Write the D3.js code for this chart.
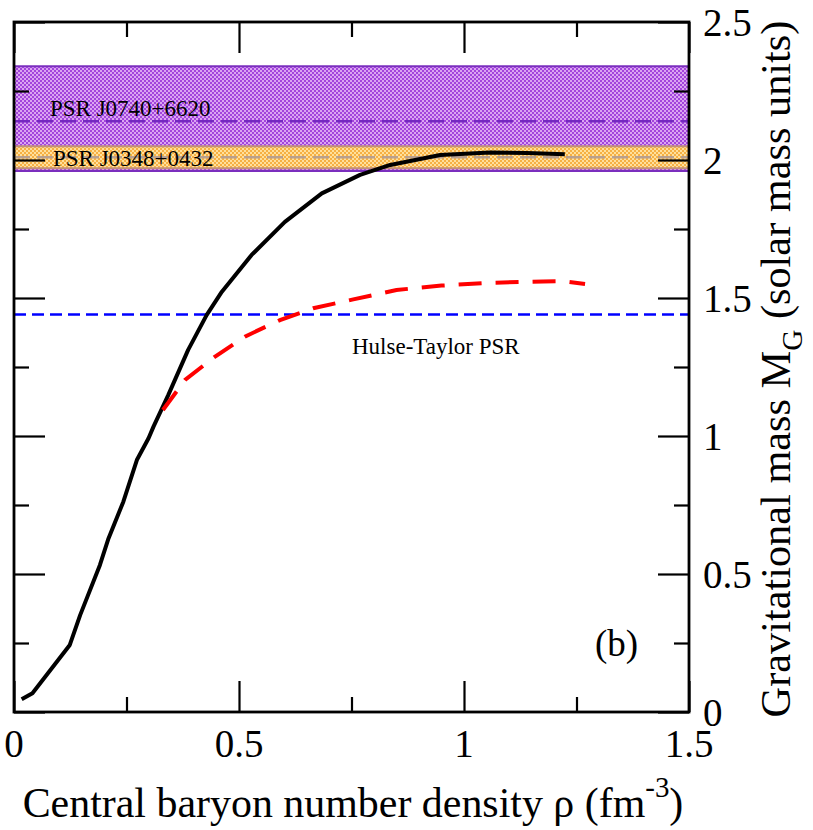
<!DOCTYPE html>
<html lang="en">
<head>
<meta charset="UTF-8">
<title>Gravitational mass vs central baryon density</title>
<script src="https://cdn.jsdelivr.net/npm/d3@7/dist/d3.min.js"></script>
<style>
  html, body { margin: 0; padding: 0; background: #fff; }
  svg text { font-family: "Liberation Serif", "Times New Roman", serif; fill: #000; }
</style>
</head>
<body>
<div id="chart"></div>
<script type="text/javascript">

// central baryon number density (fm^-3) and gravitational mass (M_sun)
const blackDensity = [0.017, 0.041, 0.124, 0.147, 0.191, 0.210, 0.243, 0.273, 0.299, 0.310,
                      0.343, 0.387, 0.428, 0.462, 0.528, 0.602, 0.684, 0.769, 0.836, 0.947,
                      1.058, 1.140, 1.224];
const blackMass    = [0.046, 0.068, 0.243, 0.351, 0.533, 0.629, 0.762, 0.913, 0.992, 1.034,
                      1.149, 1.312, 1.438, 1.523, 1.656, 1.776, 1.879, 1.946, 1.982, 2.018,
                      2.027, 2.025, 2.021];

const redDensity = [0.331, 0.380, 0.447, 0.513, 0.591, 0.665, 0.754, 0.850, 0.950, 1.058,
                    1.176, 1.220, 1.269];
const redMass    = [1.094, 1.203, 1.288, 1.360, 1.420, 1.463, 1.495, 1.529, 1.545, 1.555,
                    1.560, 1.561, 1.551];

// observational constraints
const hulseTaylorMass = 1.44;
const j0740 = {label: "PSR J0740+6620", mass: 2.14, lo: 1.96, hi: 2.34};
const j0348 = {label: "PSR J0348+0432", mass: 2.01, lo: 1.97, hi: 2.05};

const xTicks = [0, 0.5, 1, 1.5];
const xTickLabels = ["0", "0.5", "1", "1.5"];
const xMinor = [0.25, 0.75, 1.25];
const yTicks = [0, 0.5, 1, 1.5, 2, 2.5];
const yTickLabels = ["0", "0.5", "1", "1.5", "2", "2.5"];
const yMinor = [0.25, 0.75, 1.25, 1.75, 2.25];

const W = 813, H = 830;
const mLeft = 14, mRight = 689, mTop = 22, mBottom = 712;

const x = d3.scaleLinear().domain([0, 1.5]).range([mLeft, mRight]);
const y = d3.scaleLinear().domain([0, 2.5]).range([mBottom, mTop]);

const svg = d3.select("#chart").append("svg")
    .attr("width", W).attr("height", H);

// checker patterns for the bands
const defs = svg.append("defs");
function checker(id, light, dark) {
    const p = defs.append("pattern").attr("id", id)
        .attr("patternUnits", "userSpaceOnUse")
        .attr("width", 4).attr("height", 4);
    p.append("rect").attr("width", 4).attr("height", 4).attr("fill", light);
    p.append("rect").attr("width", 2).attr("height", 2).attr("fill", dark);
    p.append("rect").attr("x", 2).attr("y", 2).attr("width", 2).attr("height", 2).attr("fill", dark);
}
checker("purpleChk", "#dba4f2", "#a244dc");
checker("orangeChk", "#ffe09c", "#f6b043");

const plot = svg.append("g");

function band(b, fill, edge) {
    plot.append("rect")
        .attr("x", x(0)).attr("width", x(1.5) - x(0))
        .attr("y", y(b.hi)).attr("height", y(b.lo) - y(b.hi))
        .attr("fill", fill);
    [b.lo, b.hi].forEach(v => {
        plot.append("line")
            .attr("x1", x(0)).attr("x2", x(1.5))
            .attr("y1", y(v)).attr("y2", y(v))
            .attr("stroke", edge).attr("stroke-width", 2);
    });
}
band(j0740, "url(#purpleChk)", "#7b2fbe");
band(j0348, "url(#orangeChk)", "#c0907a");

plot.append("line")
    .attr("x1", x(0)).attr("x2", x(1.5))
    .attr("y1", y(j0740.mass)).attr("y2", y(j0740.mass))
    .attr("stroke", "#7428c0").attr("stroke-width", 2.5)
    .attr("stroke-dasharray", "16,7");
plot.append("line")
    .attr("x1", x(0)).attr("x2", x(1.5))
    .attr("y1", y(j0348.mass)).attr("y2", y(j0348.mass))
    .attr("stroke", "#b9a08e").attr("stroke-width", 2.5)
    .attr("stroke-dasharray", "16,7");

plot.append("text").attr("x", 50).attr("y", 116)
    .attr("font-size", 23).text(j0740.label);
plot.append("text").attr("x", 53).attr("y", 166)
    .attr("font-size", 23).text(j0348.label);

// Hulse-Taylor line
plot.append("line")
    .attr("x1", x(0)).attr("x2", x(1.5))
    .attr("y1", y(hulseTaylorMass)).attr("y2", y(hulseTaylorMass))
    .attr("stroke", "#0000ff").attr("stroke-width", 2.5)
    .attr("stroke-dasharray", "12,6");
plot.append("text").attr("x", 352).attr("y", 354)
    .attr("font-size", 23).text("Hulse-Taylor PSR");

const line = d3.line().x(d => x(d[0])).y(d => y(d[1]));

plot.append("path")
    .datum(blackDensity.map((d, i) => [d, blackMass[i]]))
    .attr("d", line)
    .attr("fill", "none").attr("stroke", "#000").attr("stroke-width", 4)
    .attr("stroke-linejoin", "round");

plot.append("path")
    .datum(redDensity.map((d, i) => [d, redMass[i]]))
    .attr("d", line)
    .attr("fill", "none").attr("stroke", "#ff0000").attr("stroke-width", 4)
    .attr("stroke-dasharray", "23,14");

plot.append("text").attr("x", 595).attr("y", 656)
    .attr("font-size", 37).text("(b)");

// inward ticks on all four sides
function ticks(axis, vals, len) {
    return axis.tickValues(vals).tickSizeInner(-len).tickSizeOuter(0).tickFormat("");
}
const axes = svg.append("g").attr("class", "axes");
axes.append("g").attr("transform", `translate(0,${mBottom})`).call(ticks(d3.axisBottom(x), xTicks, 31));
axes.append("g").attr("transform", `translate(0,${mBottom})`).call(ticks(d3.axisBottom(x), xMinor, 15));
axes.append("g").attr("transform", `translate(0,${mTop})`).call(ticks(d3.axisTop(x), xTicks, 31));
axes.append("g").attr("transform", `translate(0,${mTop})`).call(ticks(d3.axisTop(x), xMinor, 15));
axes.append("g").attr("transform", `translate(${mLeft},0)`).call(ticks(d3.axisLeft(y), yTicks, 31));
axes.append("g").attr("transform", `translate(${mLeft},0)`).call(ticks(d3.axisLeft(y), yMinor, 15));
axes.append("g").attr("transform", `translate(${mRight},0)`).call(ticks(d3.axisRight(y), yTicks, 31));
axes.append("g").attr("transform", `translate(${mRight},0)`).call(ticks(d3.axisRight(y), yMinor, 15));
axes.selectAll(".domain").remove();
axes.selectAll(".tick line").attr("stroke", "#000").attr("stroke-width", 2.2);

svg.append("rect")
    .attr("x", mLeft).attr("y", mTop)
    .attr("width", mRight - mLeft).attr("height", mBottom - mTop)
    .attr("fill", "none").attr("stroke", "#000").attr("stroke-width", 2.8);

// tick labels
svg.append("g").selectAll("text").data(xTicks).join("text")
    .attr("x", d => x(d)).attr("y", 757)
    .attr("text-anchor", "middle").attr("font-size", 39)
    .text((d, i) => xTickLabels[i]);
svg.append("g").selectAll("text").data(yTicks).join("text")
    .attr("x", 703).attr("y", d => y(d)).attr("dy", "0.35em")
    .attr("font-size", 39)
    .text((d, i) => yTickLabels[i]);

// axis titles, font size fitted to the span they cover in the figure
function fit(sel, span) {
    const fs = +sel.attr("font-size");
    const len = sel.node().getComputedTextLength();
    const k = span / len;
    sel.attr("font-size", fs * k);
    sel.selectAll("tspan").each(function() {
        const t = d3.select(this);
        if (t.attr("font-size")) t.attr("font-size", +t.attr("font-size") * k);
        if (t.attr("dy")) t.attr("dy", +t.attr("dy") * k);
    });
}

const xt = svg.append("text").attr("x", 353).attr("y", 817)
    .attr("text-anchor", "middle").attr("font-size", 42);
xt.append("tspan").text("Central baryon number density \u03c1 (fm");
xt.append("tspan").attr("dy", -20).attr("font-size", 29).text("-3");
xt.append("tspan").attr("dy", 20).text(")");
fit(xt, 661);

const yt = svg.append("text")
    .attr("transform", "translate(790,369) rotate(-90)")
    .attr("text-anchor", "middle").attr("font-size", 42);
yt.append("tspan").text("Gravitational mass M");
yt.append("tspan").attr("dy", 12).attr("font-size", 29).text("G");
yt.append("tspan").attr("dy", -12).text(" (solar mass units)");
fit(yt, 697);

</script>
</body>
</html>
